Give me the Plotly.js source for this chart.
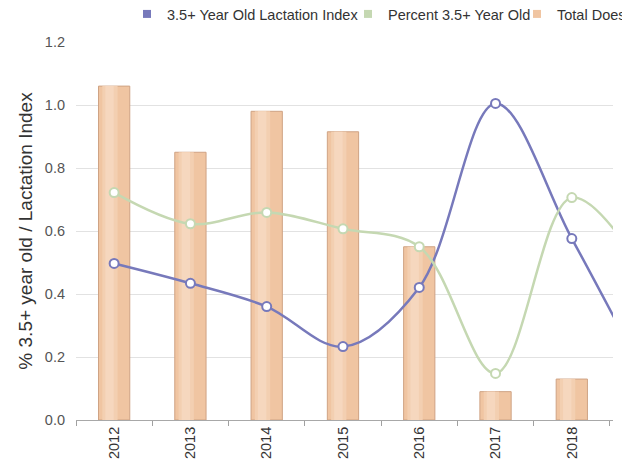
<!DOCTYPE html>
<html>
<head>
<meta charset="utf-8">
<script src="https://cdn.plot.ly/plotly-3.0.1.min.js"></script>
<style>
html,body{margin:0;padding:0;background:#fff;overflow:hidden;width:622px;height:468px;}
#wrap{width:622px;height:468px;overflow:hidden;position:relative;}
#chart{width:760px;height:468px;}
</style>
</head>
<body>
<div id="wrap"><div id="chart"></div></div>
<script>
// ---- data ----
var years = ['2012', '2013', '2014', '2015', '2016', '2017', '2018', '2019'];
var barYears = ['2012', '2013', '2014', '2015', '2016', '2017', '2018'];
var totalDoes = [106, 85, 98, 91.5, 55, 9, 13];
var lactationIndex = [0.497, 0.434, 0.360, 0.233, 0.421, 1.005, 0.576, 0.12];
var percentOld = [0.722, 0.623, 0.659, 0.607, 0.550, 0.148, 0.706, 0.45];
var seriesNames = ['3.5+ Year Old Lactation Index', 'Percent 3.5+ Year Old', 'Total Does'];
var yTickVals = [0, 0.2, 0.4, 0.6, 0.8, 1.0, 1.2];
var yTickText = ['0.0', '0.2', '0.4', '0.6', '0.8', '1.0', '1.2'];

// ---- styles ----
var FONT = 'Arial, "Liberation Sans", sans-serif';
var BLUE = '#7779bb', GREEN = '#c5d8b2', BAR = '#f0c5a2', BARLINE = '#cfa384';
var BW = 0.41;
var W = 760, H = 468, ML = 76, MR = 760 - 613, MT = 42, MB = 48;
var PW = W - ML - MR, PH = H - MT - MB;

var traces = [];
// bars (base + lighter stripes to suggest the gradient)
traces.push({type: 'bar', x: barYears, y: totalDoes, yaxis: 'y', width: BW, offset: -BW / 2,
  marker: {color: BAR, line: {color: BARLINE, width: 1}}, showlegend: false, hoverinfo: 'skip'});
traces.push({type: 'bar', x: barYears, y: totalDoes, yaxis: 'y', width: 0.2, offset: -BW / 2 + 0.05,
  marker: {color: '#f3cfb1', line: {width: 0}}, showlegend: false, hoverinfo: 'skip'});
traces.push({type: 'bar', x: barYears, y: totalDoes, yaxis: 'y', width: 0.11, offset: -BW / 2 + 0.09,
  marker: {color: '#f6d7be', line: {width: 0}}, showlegend: false, hoverinfo: 'skip'});

// lines
traces.push({type: 'scatter', mode: 'lines+markers', x: years, y: lactationIndex, yaxis: 'y2',
  line: {color: BLUE, width: 2.5, shape: 'spline', smoothing: 1},
  marker: {color: '#ffffff', size: 9, line: {color: BLUE, width: 2}}, showlegend: false, name: seriesNames[0]});
traces.push({type: 'scatter', mode: 'lines+markers', x: years, y: percentOld, yaxis: 'y2',
  line: {color: GREEN, width: 2.5, shape: 'spline', smoothing: 1},
  marker: {color: '#ffffff', size: 9, line: {color: GREEN, width: 2}}, showlegend: false, name: seriesNames[1]});

// legend entries (square swatches)
var legendColors = [BLUE, GREEN, BAR];
var legendIds = ['legend', 'legend2', 'legend3'];
for (var i = 0; i < 3; i++) {
  traces.push({type: 'scatter', mode: 'markers', x: [null], y: [null], yaxis: 'y2', name: seriesNames[i],
    legend: legendIds[i], marker: {symbol: 'square', size: 8, color: legendColors[i]}, hoverinfo: 'skip'});
}

function legendAt(xpx) {
  return {x: (xpx - ML) / PW, yref: 'container', y: 1 - 14 / H, xanchor: 'left', yanchor: 'middle',
    bgcolor: 'rgba(0,0,0,0)', borderwidth: 0, font: {family: FONT, size: 14.5, color: '#333'}};
}

var layout = {
  width: W, height: H,
  margin: {l: ML, r: MR, t: MT, b: MB},
  paper_bgcolor: '#fff', plot_bgcolor: '#fff',
  font: {family: FONT, size: 14.5, color: '#444'},
  barmode: 'overlay',
  xaxis: {type: 'category', categoryorder: 'array', categoryarray: years, range: [-0.5, 6.54],
    tickson: 'boundaries', ticks: 'outside', ticklen: 5, tickcolor: '#a0a0a0', showline: true, linecolor: '#a8a8a8',
    showgrid: false, tickangle: -90, tickfont: {size: 14.5, color: '#333'}, fixedrange: true, zeroline: false,
    automargin: false},
  yaxis: {range: [0, 120], showgrid: false, showticklabels: false, ticks: '', zeroline: false, showline: false,
    fixedrange: true, automargin: false},
  yaxis2: {overlaying: 'y', side: 'left', range: [0, 1.2], tickvals: yTickVals, ticktext: yTickText,
    showgrid: true, gridcolor: '#e2e2e2', gridwidth: 1, zeroline: false, showline: false, ticks: '',
    ticklabelstandoff: 10, tickfont: {size: 14.5, color: '#555'}, automargin: false, fixedrange: true,
    title: {text: '% 3.5+ year old / Lactation Index', font: {size: 19, color: '#333'}, standoff: 7}},
  legend: legendAt(127),
  legend2: legendAt(348),
  legend3: legendAt(517),
  showlegend: true
};

Plotly.newPlot('chart', traces, layout, {displayModeBar: false, staticPlot: true});
</script>
</body>
</html>
